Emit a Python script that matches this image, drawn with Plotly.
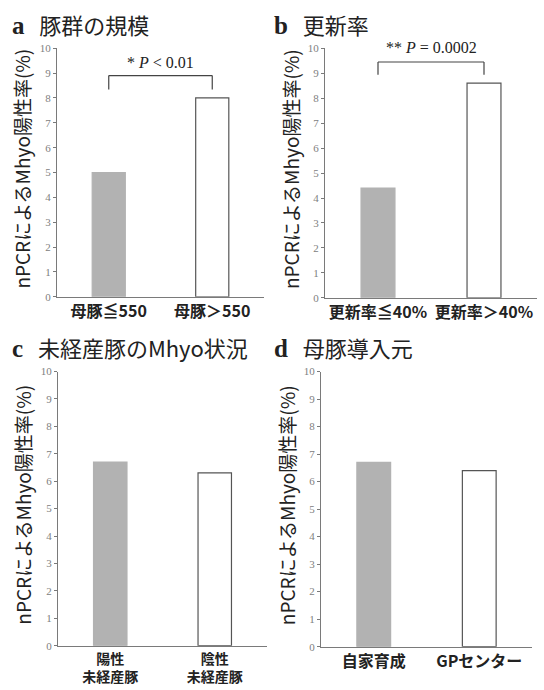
import plotly.graph_objects as go

# ---- data ----
cats_a = ["母豚≦550", "母豚＞550"]
vals_a = [5.0, 8.0]
cats_b = ["更新率≦40%", "更新率＞40%"]
vals_b = [4.4, 8.6]
cats_c = ["陽性<br>未経産豚", "陰性<br>未経産豚"]
vals_c = [6.7, 6.3]
cats_d = ["自家育成", "GPセンター"]
vals_d = [6.7, 6.4]
titles = [("a", "豚群の規模"), ("b", "更新率"), ("c", "未経産豚のMhyo状況"), ("d", "母豚導入元")]
ytitle = "nPCRによるMhyo陽性率(%)"
yticks = [0, 1, 2, 3, 4, 5, 6, 7, 8, 9, 10]

W, H = 544, 690
def px(x): return x / W
def py(y): return 1 - y / H

panels = [
    dict(cats=cats_a, vals=vals_a, x0=57, x1=264, y0=296, y1=43, tfs=16),
    dict(cats=cats_b, vals=vals_b, x0=325, x1=537, y0=297, y1=43, tfs=16),
    dict(cats=cats_c, vals=vals_c, x0=58, x1=267, y0=651, y1=372, tfs=14),
    dict(cats=cats_d, vals=vals_d, x0=321, x1=532, y0=652, y1=372, tfs=16),
]

SANS = "Noto Sans CJK JP"
SERIF = "Liberation Serif"
GRAY = "#b2b2b2"
AX = "#7a7a7a"

fig = go.Figure()
layout = dict(width=W, height=H, margin=dict(l=0, r=0, t=0, b=0),
              paper_bgcolor="white", plot_bgcolor="white", showlegend=False)
annotations = []
shapes = []

for i, p in enumerate(panels):
    n = "" if i == 0 else str(i + 1)
    xa, ya = "x" + n, "y" + n
    fig.add_trace(go.Bar(
        x=p["cats"], y=p["vals"], xaxis=xa, yaxis=ya, width=0.32,
        marker=dict(color=[GRAY, "white"],
                    line=dict(color=[GRAY, "#555555"], width=1.2)),
        hoverinfo="skip"))
    layout["xaxis" + n] = dict(
        domain=[px(p["x0"]), px(p["x1"])], anchor=ya, range=[-0.5, 1.5],
        showline=True, linecolor=AX, linewidth=1.2, ticks="",
        tickfont=dict(family=SANS, size=p["tfs"], color="#222222", weight="bold"),
        showgrid=False, zeroline=False, fixedrange=True)
    layout["yaxis" + n] = dict(
        domain=[py(p["y0"]), py(p["y1"])], anchor=xa, range=[0, 10],
        tickvals=yticks, showline=True, linecolor=AX, linewidth=1.2,
        ticks="outside", ticklen=3, tickcolor=AX,
        tickfont=dict(family=SERIF, size=11, color="#808080"),
        showgrid=False, zeroline=False, fixedrange=True)
    # y-axis title
    annotations.append(dict(
        text=ytitle, textangle=-90, xref="paper", yref="paper",
        x=px(p["x0"] - 35), y=py((p["y0"] + p["y1"]) / 2 - 4),
        showarrow=False, xanchor="center", yanchor="middle",
        font=dict(family=SANS, size=19, color="#222222")))
    # panel title
    letter, ttl = titles[i]
    tx = 10 if i % 2 == 0 else 272
    ty = 18 if i < 2 else 347
    annotations.append(dict(
        text=f"<span style='font-family:{SERIF};font-weight:bold;font-size:25px'>{letter}</span>"
             f"<span style='font-size:22px'>&nbsp;&nbsp;&nbsp;{ttl}</span>",
        xref="paper", yref="paper", x=px(tx), y=py(ty),
        xanchor="left", yanchor="middle", showarrow=False,
        font=dict(family=SANS, size=22, color="#222222")))

# significance brackets
def bracket(n, top, leg, label, label_y_px):
    xa = "x" + n
    ya = "y" + n
    for (x0, y0, x1, y1) in [(0, leg, 0, top), (0, top, 1, top), (1, top, 1, leg)]:
        shapes.append(dict(type="line", xref=xa, yref=ya, x0=x0, y0=y0, x1=x1, y1=y1,
                           line=dict(color="#444444", width=1.2)))
    annotations.append(dict(text=label, xref=xa, yref="paper", x=0.5, y=py(label_y_px),
                            showarrow=False, xanchor="center", yanchor="middle",
                            font=dict(family=SERIF, size=16, color="#222222")))

bracket("", 8.9, 8.34, "* <i>P</i> < 0.01", 57)
bracket("2", 9.45, 8.94, "** <i>P</i> = 0.0002", 42)

layout["annotations"] = annotations
layout["shapes"] = shapes
fig.update_layout(**layout)
fig.write_html("out.html")
